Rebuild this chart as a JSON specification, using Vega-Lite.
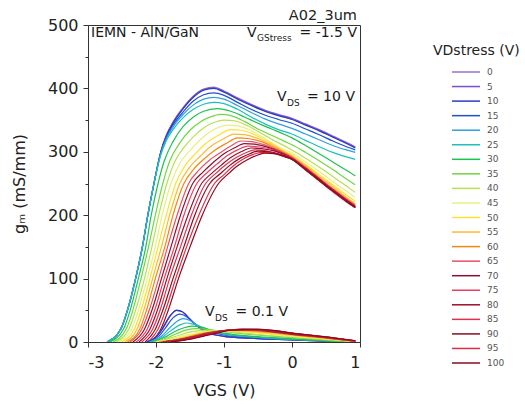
{
"$schema": "https://vega.github.io/schema/vega-lite/v6.json",
"width": 272, "height": 317,
"autosize": {"type": "none"},
"padding": {"left": 88, "top": 25, "right": 165, "bottom": 65},
"background": "white",
"title": {"text": "A02_3um", "anchor": "end", "frame": "group", "fontSize": 14.5, "fontWeight": "normal", "font": "DejaVu Sans", "offset": -6, "color": "#222", "dx": -3},
"config": {
  "view": {"stroke": "#333", "strokeWidth": 1},
  "font": "DejaVu Sans",
  "axis": {"grid": false, "domainColor": "#333", "tickColor": "#333", "labelColor": "#222", "titleColor": "#222", "labelFont": "DejaVu Sans", "titleFont": "DejaVu Sans", "titleFontWeight": "normal"},
  "legend": {"padding": 0}
},
"data": {"values": [
{"s":0,"d":"h","v":-2.72,"g":0},{"s":0,"d":"h","v":-2.52,"g":20},{"s":0,"d":"h","v":-2.42,"g":50},{"s":0,"d":"h","v":-2.3,"g":100},{"s":0,"d":"h","v":-2.2,"g":150},{"s":0,"d":"h","v":-2.12,"g":200},{"s":0,"d":"h","v":-2.03,"g":250},{"s":0,"d":"h","v":-1.93,"g":300},{"s":0,"d":"h","v":-1.85,"g":326},{"s":0,"d":"h","v":-1.75,"g":347},{"s":0,"d":"h","v":-1.6,"g":370},{"s":0,"d":"h","v":-1.45,"g":388},{"s":0,"d":"h","v":-1.3,"g":399},{"s":0,"d":"h","v":-1.15,"g":402},{"s":0,"d":"h","v":-1.0,"g":396},{"s":0,"d":"h","v":-0.8,"g":385},{"s":0,"d":"h","v":-0.6,"g":375},{"s":0,"d":"h","v":-0.4,"g":366},{"s":0,"d":"h","v":-0.2,"g":359},{"s":0,"d":"h","v":0,"g":353},{"s":0,"d":"h","v":0.2,"g":344},{"s":0,"d":"h","v":0.4,"g":335},{"s":0,"d":"h","v":0.6,"g":325},{"s":0,"d":"h","v":0.8,"g":315},{"s":0,"d":"h","v":0.93,"g":308},
{"s":5,"d":"h","v":-2.72,"g":0},{"s":5,"d":"h","v":-2.52,"g":20},{"s":5,"d":"h","v":-2.42,"g":50},{"s":5,"d":"h","v":-2.3,"g":100},{"s":5,"d":"h","v":-2.2,"g":150},{"s":5,"d":"h","v":-2.12,"g":200},{"s":5,"d":"h","v":-2.03,"g":250},{"s":5,"d":"h","v":-1.93,"g":300},{"s":5,"d":"h","v":-1.85,"g":325},{"s":5,"d":"h","v":-1.75,"g":346},{"s":5,"d":"h","v":-1.6,"g":369},{"s":5,"d":"h","v":-1.45,"g":387},{"s":5,"d":"h","v":-1.3,"g":398},{"s":5,"d":"h","v":-1.15,"g":401},{"s":5,"d":"h","v":-1.0,"g":395},{"s":5,"d":"h","v":-0.8,"g":384},{"s":5,"d":"h","v":-0.6,"g":374},{"s":5,"d":"h","v":-0.4,"g":365},{"s":5,"d":"h","v":-0.2,"g":358},{"s":5,"d":"h","v":0,"g":352},{"s":5,"d":"h","v":0.2,"g":343},{"s":5,"d":"h","v":0.4,"g":334},{"s":5,"d":"h","v":0.6,"g":324},{"s":5,"d":"h","v":0.8,"g":314},{"s":5,"d":"h","v":0.93,"g":307},
{"s":10,"d":"h","v":-2.72,"g":0},{"s":10,"d":"h","v":-2.52,"g":20},{"s":10,"d":"h","v":-2.42,"g":50},{"s":10,"d":"h","v":-2.3,"g":100},{"s":10,"d":"h","v":-2.2,"g":150},{"s":10,"d":"h","v":-2.12,"g":200},{"s":10,"d":"h","v":-2.03,"g":250},{"s":10,"d":"h","v":-1.93,"g":299},{"s":10,"d":"h","v":-1.85,"g":324},{"s":10,"d":"h","v":-1.75,"g":345},{"s":10,"d":"h","v":-1.6,"g":368},{"s":10,"d":"h","v":-1.45,"g":386},{"s":10,"d":"h","v":-1.3,"g":397},{"s":10,"d":"h","v":-1.15,"g":400},{"s":10,"d":"h","v":-1.0,"g":394},{"s":10,"d":"h","v":-0.8,"g":383},{"s":10,"d":"h","v":-0.6,"g":373},{"s":10,"d":"h","v":-0.4,"g":364},{"s":10,"d":"h","v":-0.2,"g":357},{"s":10,"d":"h","v":0,"g":351},{"s":10,"d":"h","v":0.2,"g":342},{"s":10,"d":"h","v":0.4,"g":333},{"s":10,"d":"h","v":0.6,"g":323},{"s":10,"d":"h","v":0.8,"g":313},{"s":10,"d":"h","v":0.93,"g":306},
{"s":15,"d":"h","v":-2.72,"g":0},{"s":15,"d":"h","v":-2.52,"g":20},{"s":15,"d":"h","v":-2.42,"g":50},{"s":15,"d":"h","v":-2.3,"g":100},{"s":15,"d":"h","v":-2.2,"g":150},{"s":15,"d":"h","v":-2.12,"g":200},{"s":15,"d":"h","v":-2.03,"g":250},{"s":15,"d":"h","v":-1.93,"g":298},{"s":15,"d":"h","v":-1.85,"g":322},{"s":15,"d":"h","v":-1.75,"g":342},{"s":15,"d":"h","v":-1.6,"g":363},{"s":15,"d":"h","v":-1.45,"g":380},{"s":15,"d":"h","v":-1.3,"g":390},{"s":15,"d":"h","v":-1.15,"g":393},{"s":15,"d":"h","v":-1.0,"g":389},{"s":15,"d":"h","v":-0.8,"g":378},{"s":15,"d":"h","v":-0.6,"g":367},{"s":15,"d":"h","v":-0.4,"g":358},{"s":15,"d":"h","v":-0.2,"g":351},{"s":15,"d":"h","v":0,"g":345},{"s":15,"d":"h","v":0.2,"g":336},{"s":15,"d":"h","v":0.4,"g":327},{"s":15,"d":"h","v":0.6,"g":317},{"s":15,"d":"h","v":0.8,"g":308},{"s":15,"d":"h","v":0.93,"g":303},
{"s":20,"d":"h","v":-2.72,"g":0},{"s":20,"d":"h","v":-2.52,"g":20},{"s":20,"d":"h","v":-2.42,"g":50},{"s":20,"d":"h","v":-2.3,"g":100},{"s":20,"d":"h","v":-2.2,"g":150},{"s":20,"d":"h","v":-2.12,"g":200},{"s":20,"d":"h","v":-2.03,"g":250},{"s":20,"d":"h","v":-1.93,"g":297},{"s":20,"d":"h","v":-1.85,"g":320},{"s":20,"d":"h","v":-1.75,"g":339},{"s":20,"d":"h","v":-1.6,"g":359},{"s":20,"d":"h","v":-1.45,"g":374},{"s":20,"d":"h","v":-1.3,"g":383},{"s":20,"d":"h","v":-1.15,"g":386},{"s":20,"d":"h","v":-1.0,"g":383},{"s":20,"d":"h","v":-0.8,"g":373},{"s":20,"d":"h","v":-0.6,"g":362},{"s":20,"d":"h","v":-0.4,"g":352},{"s":20,"d":"h","v":-0.2,"g":344},{"s":20,"d":"h","v":0,"g":337},{"s":20,"d":"h","v":0.2,"g":328},{"s":20,"d":"h","v":0.4,"g":319},{"s":20,"d":"h","v":0.6,"g":310},{"s":20,"d":"h","v":0.8,"g":303},{"s":20,"d":"h","v":0.93,"g":299},
{"s":25,"d":"h","v":-2.72,"g":0},{"s":25,"d":"h","v":-2.52,"g":20},{"s":25,"d":"h","v":-2.42,"g":50},{"s":25,"d":"h","v":-2.3,"g":100},{"s":25,"d":"h","v":-2.2,"g":150},{"s":25,"d":"h","v":-2.12,"g":200},{"s":25,"d":"h","v":-2.03,"g":250},{"s":25,"d":"h","v":-1.93,"g":295},{"s":25,"d":"h","v":-1.85,"g":317},{"s":25,"d":"h","v":-1.75,"g":335},{"s":25,"d":"h","v":-1.6,"g":354},{"s":25,"d":"h","v":-1.45,"g":367},{"s":25,"d":"h","v":-1.3,"g":375},{"s":25,"d":"h","v":-1.15,"g":378},{"s":25,"d":"h","v":-1.0,"g":376},{"s":25,"d":"h","v":-0.8,"g":367},{"s":25,"d":"h","v":-0.6,"g":355},{"s":25,"d":"h","v":-0.4,"g":344},{"s":25,"d":"h","v":-0.2,"g":335},{"s":25,"d":"h","v":0,"g":328},{"s":25,"d":"h","v":0.2,"g":318},{"s":25,"d":"h","v":0.4,"g":308},{"s":25,"d":"h","v":0.6,"g":299},{"s":25,"d":"h","v":0.8,"g":292},{"s":25,"d":"h","v":0.93,"g":288},
{"s":30,"d":"h","v":-2.68,"g":0},{"s":30,"d":"h","v":-2.48,"g":20},{"s":30,"d":"h","v":-2.38,"g":50},{"s":30,"d":"h","v":-2.26,"g":100},{"s":30,"d":"h","v":-2.15,"g":150},{"s":30,"d":"h","v":-2.07,"g":200},{"s":30,"d":"h","v":-1.97,"g":250},{"s":30,"d":"h","v":-1.88,"g":285},{"s":30,"d":"h","v":-1.75,"g":316},{"s":30,"d":"h","v":-1.6,"g":340},{"s":30,"d":"h","v":-1.45,"g":355},{"s":30,"d":"h","v":-1.3,"g":364},{"s":30,"d":"h","v":-1.1,"g":368},{"s":30,"d":"h","v":-0.9,"g":364},{"s":30,"d":"h","v":-0.7,"g":355},{"s":30,"d":"h","v":-0.5,"g":345},{"s":30,"d":"h","v":-0.3,"g":336},{"s":30,"d":"h","v":-0.1,"g":327},{"s":30,"d":"h","v":0,"g":322},{"s":30,"d":"h","v":0.2,"g":310},{"s":30,"d":"h","v":0.4,"g":297},{"s":30,"d":"h","v":0.6,"g":284},{"s":30,"d":"h","v":0.8,"g":271},{"s":30,"d":"h","v":0.93,"g":262},
{"s":35,"d":"h","v":-2.63,"g":0},{"s":35,"d":"h","v":-2.44,"g":20},{"s":35,"d":"h","v":-2.34,"g":50},{"s":35,"d":"h","v":-2.22,"g":100},{"s":35,"d":"h","v":-2.11,"g":150},{"s":35,"d":"h","v":-2.01,"g":200},{"s":35,"d":"h","v":-1.9,"g":250},{"s":35,"d":"h","v":-1.8,"g":285},{"s":35,"d":"h","v":-1.65,"g":314},{"s":35,"d":"h","v":-1.5,"g":334},{"s":35,"d":"h","v":-1.35,"g":347},{"s":35,"d":"h","v":-1.2,"g":355},{"s":35,"d":"h","v":-1.05,"g":359},{"s":35,"d":"h","v":-0.9,"g":357},{"s":35,"d":"h","v":-0.7,"g":348},{"s":35,"d":"h","v":-0.5,"g":336},{"s":35,"d":"h","v":-0.3,"g":326},{"s":35,"d":"h","v":-0.1,"g":316},{"s":35,"d":"h","v":0,"g":311},{"s":35,"d":"h","v":0.2,"g":299},{"s":35,"d":"h","v":0.4,"g":286},{"s":35,"d":"h","v":0.6,"g":272},{"s":35,"d":"h","v":0.8,"g":257},{"s":35,"d":"h","v":0.93,"g":248},
{"s":40,"d":"h","v":-2.59,"g":0},{"s":40,"d":"h","v":-2.4,"g":20},{"s":40,"d":"h","v":-2.3,"g":50},{"s":40,"d":"h","v":-2.17,"g":100},{"s":40,"d":"h","v":-2.06,"g":150},{"s":40,"d":"h","v":-1.96,"g":200},{"s":40,"d":"h","v":-1.84,"g":250},{"s":40,"d":"h","v":-1.73,"g":283},{"s":40,"d":"h","v":-1.58,"g":308},{"s":40,"d":"h","v":-1.43,"g":326},{"s":40,"d":"h","v":-1.28,"g":339},{"s":40,"d":"h","v":-1.13,"g":347},{"s":40,"d":"h","v":-1.0,"g":350},{"s":40,"d":"h","v":-0.85,"g":349},{"s":40,"d":"h","v":-0.65,"g":341},{"s":40,"d":"h","v":-0.45,"g":329},{"s":40,"d":"h","v":-0.25,"g":317},{"s":40,"d":"h","v":0,"g":303},{"s":40,"d":"h","v":0.2,"g":290},{"s":40,"d":"h","v":0.4,"g":276},{"s":40,"d":"h","v":0.6,"g":261},{"s":40,"d":"h","v":0.8,"g":246},{"s":40,"d":"h","v":0.93,"g":236},
{"s":45,"d":"h","v":-2.55,"g":0},{"s":45,"d":"h","v":-2.36,"g":20},{"s":45,"d":"h","v":-2.26,"g":50},{"s":45,"d":"h","v":-2.13,"g":100},{"s":45,"d":"h","v":-2.01,"g":150},{"s":45,"d":"h","v":-1.91,"g":200},{"s":45,"d":"h","v":-1.78,"g":250},{"s":45,"d":"h","v":-1.66,"g":280},{"s":45,"d":"h","v":-1.5,"g":302},{"s":45,"d":"h","v":-1.35,"g":319},{"s":45,"d":"h","v":-1.2,"g":332},{"s":45,"d":"h","v":-1.07,"g":339},{"s":45,"d":"h","v":-0.95,"g":342},{"s":45,"d":"h","v":-0.8,"g":341},{"s":45,"d":"h","v":-0.6,"g":333},{"s":45,"d":"h","v":-0.4,"g":321},{"s":45,"d":"h","v":-0.2,"g":308},{"s":45,"d":"h","v":0,"g":298},{"s":45,"d":"h","v":0.2,"g":284},{"s":45,"d":"h","v":0.4,"g":269},{"s":45,"d":"h","v":0.6,"g":253},{"s":45,"d":"h","v":0.8,"g":238},{"s":45,"d":"h","v":0.93,"g":228},
{"s":50,"d":"h","v":-2.51,"g":0},{"s":50,"d":"h","v":-2.32,"g":20},{"s":50,"d":"h","v":-2.22,"g":50},{"s":50,"d":"h","v":-2.09,"g":100},{"s":50,"d":"h","v":-1.97,"g":150},{"s":50,"d":"h","v":-1.85,"g":200},{"s":50,"d":"h","v":-1.71,"g":250},{"s":50,"d":"h","v":-1.58,"g":277},{"s":50,"d":"h","v":-1.42,"g":297},{"s":50,"d":"h","v":-1.27,"g":313},{"s":50,"d":"h","v":-1.1,"g":325},{"s":50,"d":"h","v":-0.9,"g":335},{"s":50,"d":"h","v":-0.75,"g":334},{"s":50,"d":"h","v":-0.55,"g":327},{"s":50,"d":"h","v":-0.35,"g":316},{"s":50,"d":"h","v":-0.15,"g":303},{"s":50,"d":"h","v":0,"g":295},{"s":50,"d":"h","v":0.2,"g":280},{"s":50,"d":"h","v":0.4,"g":264},{"s":50,"d":"h","v":0.6,"g":248},{"s":50,"d":"h","v":0.8,"g":232},{"s":50,"d":"h","v":0.93,"g":222},
{"s":55,"d":"h","v":-2.46,"g":0},{"s":55,"d":"h","v":-2.28,"g":20},{"s":55,"d":"h","v":-2.18,"g":50},{"s":55,"d":"h","v":-2.05,"g":100},{"s":55,"d":"h","v":-1.92,"g":150},{"s":55,"d":"h","v":-1.8,"g":200},{"s":55,"d":"h","v":-1.65,"g":250},{"s":55,"d":"h","v":-1.51,"g":275},{"s":55,"d":"h","v":-1.35,"g":293},{"s":55,"d":"h","v":-1.2,"g":308},{"s":55,"d":"h","v":-1.03,"g":319},{"s":55,"d":"h","v":-0.85,"g":328},{"s":55,"d":"h","v":-0.7,"g":327},{"s":55,"d":"h","v":-0.5,"g":321},{"s":55,"d":"h","v":-0.3,"g":311},{"s":55,"d":"h","v":-0.1,"g":299},{"s":55,"d":"h","v":0,"g":293},{"s":55,"d":"h","v":0.2,"g":278},{"s":55,"d":"h","v":0.4,"g":261},{"s":55,"d":"h","v":0.6,"g":245},{"s":55,"d":"h","v":0.8,"g":228},{"s":55,"d":"h","v":0.93,"g":218},
{"s":60,"d":"h","v":-2.42,"g":0},{"s":60,"d":"h","v":-2.24,"g":20},{"s":60,"d":"h","v":-2.14,"g":50},{"s":60,"d":"h","v":-2.01,"g":100},{"s":60,"d":"h","v":-1.87,"g":150},{"s":60,"d":"h","v":-1.75,"g":200},{"s":60,"d":"h","v":-1.59,"g":250},{"s":60,"d":"h","v":-1.45,"g":272},{"s":60,"d":"h","v":-1.29,"g":289},{"s":60,"d":"h","v":-1.13,"g":303},{"s":60,"d":"h","v":-0.97,"g":313},{"s":60,"d":"h","v":-0.8,"g":322},{"s":60,"d":"h","v":-0.65,"g":321},{"s":60,"d":"h","v":-0.45,"g":316},{"s":60,"d":"h","v":-0.25,"g":306},{"s":60,"d":"h","v":-0.05,"g":295},{"s":60,"d":"h","v":0.2,"g":276},{"s":60,"d":"h","v":0.4,"g":259},{"s":60,"d":"h","v":0.6,"g":242},{"s":60,"d":"h","v":0.8,"g":226},{"s":60,"d":"h","v":0.93,"g":216},
{"s":65,"d":"h","v":-2.38,"g":0},{"s":65,"d":"h","v":-2.21,"g":20},{"s":65,"d":"h","v":-2.1,"g":50},{"s":65,"d":"h","v":-1.96,"g":100},{"s":65,"d":"h","v":-1.83,"g":150},{"s":65,"d":"h","v":-1.69,"g":200},{"s":65,"d":"h","v":-1.52,"g":250},{"s":65,"d":"h","v":-1.37,"g":271},{"s":65,"d":"h","v":-1.21,"g":287},{"s":65,"d":"h","v":-1.05,"g":299},{"s":65,"d":"h","v":-0.9,"g":309},{"s":65,"d":"h","v":-0.75,"g":317},{"s":65,"d":"h","v":-0.6,"g":316},{"s":65,"d":"h","v":-0.4,"g":311},{"s":65,"d":"h","v":-0.2,"g":302},{"s":65,"d":"h","v":0,"g":291},{"s":65,"d":"h","v":0.2,"g":275},{"s":65,"d":"h","v":0.4,"g":258},{"s":65,"d":"h","v":0.6,"g":241},{"s":65,"d":"h","v":0.8,"g":225},{"s":65,"d":"h","v":0.93,"g":215},
{"s":70,"d":"h","v":-2.34,"g":0},{"s":70,"d":"h","v":-2.17,"g":20},{"s":70,"d":"h","v":-2.06,"g":50},{"s":70,"d":"h","v":-1.92,"g":100},{"s":70,"d":"h","v":-1.78,"g":150},{"s":70,"d":"h","v":-1.64,"g":200},{"s":70,"d":"h","v":-1.46,"g":250},{"s":70,"d":"h","v":-1.31,"g":268},{"s":70,"d":"h","v":-1.15,"g":284},{"s":70,"d":"h","v":-1.0,"g":297},{"s":70,"d":"h","v":-0.85,"g":306},{"s":70,"d":"h","v":-0.7,"g":313},{"s":70,"d":"h","v":-0.55,"g":312},{"s":70,"d":"h","v":-0.35,"g":307},{"s":70,"d":"h","v":-0.15,"g":298},{"s":70,"d":"h","v":0,"g":290},{"s":70,"d":"h","v":0.2,"g":274},{"s":70,"d":"h","v":0.4,"g":257},{"s":70,"d":"h","v":0.6,"g":240},{"s":70,"d":"h","v":0.8,"g":224},{"s":70,"d":"h","v":0.93,"g":214},
{"s":75,"d":"h","v":-2.29,"g":0},{"s":75,"d":"h","v":-2.13,"g":20},{"s":75,"d":"h","v":-2.02,"g":50},{"s":75,"d":"h","v":-1.88,"g":100},{"s":75,"d":"h","v":-1.73,"g":150},{"s":75,"d":"h","v":-1.59,"g":200},{"s":75,"d":"h","v":-1.4,"g":250},{"s":75,"d":"h","v":-1.25,"g":267},{"s":75,"d":"h","v":-1.1,"g":281},{"s":75,"d":"h","v":-0.95,"g":294},{"s":75,"d":"h","v":-0.8,"g":303},{"s":75,"d":"h","v":-0.65,"g":309},{"s":75,"d":"h","v":-0.5,"g":308},{"s":75,"d":"h","v":-0.3,"g":304},{"s":75,"d":"h","v":-0.1,"g":295},{"s":75,"d":"h","v":0,"g":290},{"s":75,"d":"h","v":0.2,"g":273},{"s":75,"d":"h","v":0.4,"g":256},{"s":75,"d":"h","v":0.6,"g":239},{"s":75,"d":"h","v":0.8,"g":223},{"s":75,"d":"h","v":0.93,"g":213},
{"s":80,"d":"h","v":-2.25,"g":0},{"s":80,"d":"h","v":-2.09,"g":20},{"s":80,"d":"h","v":-1.98,"g":50},{"s":80,"d":"h","v":-1.84,"g":100},{"s":80,"d":"h","v":-1.69,"g":150},{"s":80,"d":"h","v":-1.53,"g":200},{"s":80,"d":"h","v":-1.33,"g":250},{"s":80,"d":"h","v":-1.18,"g":266},{"s":80,"d":"h","v":-1.04,"g":279},{"s":80,"d":"h","v":-0.9,"g":291},{"s":80,"d":"h","v":-0.75,"g":300},{"s":80,"d":"h","v":-0.6,"g":306},{"s":80,"d":"h","v":-0.45,"g":305},{"s":80,"d":"h","v":-0.25,"g":301},{"s":80,"d":"h","v":-0.05,"g":292},{"s":80,"d":"h","v":0.2,"g":273},{"s":80,"d":"h","v":0.4,"g":256},{"s":80,"d":"h","v":0.6,"g":239},{"s":80,"d":"h","v":0.8,"g":223},{"s":80,"d":"h","v":0.93,"g":213},
{"s":85,"d":"h","v":-2.21,"g":0},{"s":85,"d":"h","v":-2.05,"g":20},{"s":85,"d":"h","v":-1.94,"g":50},{"s":85,"d":"h","v":-1.8,"g":100},{"s":85,"d":"h","v":-1.64,"g":150},{"s":85,"d":"h","v":-1.48,"g":200},{"s":85,"d":"h","v":-1.27,"g":250},{"s":85,"d":"h","v":-1.12,"g":266},{"s":85,"d":"h","v":-0.97,"g":280},{"s":85,"d":"h","v":-0.82,"g":291},{"s":85,"d":"h","v":-0.67,"g":299},{"s":85,"d":"h","v":-0.55,"g":303},{"s":85,"d":"h","v":-0.4,"g":302},{"s":85,"d":"h","v":-0.2,"g":297},{"s":85,"d":"h","v":0,"g":289},{"s":85,"d":"h","v":0.2,"g":272},{"s":85,"d":"h","v":0.4,"g":255},{"s":85,"d":"h","v":0.6,"g":238},{"s":85,"d":"h","v":0.8,"g":222},{"s":85,"d":"h","v":0.93,"g":212},
{"s":90,"d":"h","v":-2.16,"g":0},{"s":90,"d":"h","v":-2.01,"g":20},{"s":90,"d":"h","v":-1.9,"g":50},{"s":90,"d":"h","v":-1.75,"g":100},{"s":90,"d":"h","v":-1.59,"g":150},{"s":90,"d":"h","v":-1.43,"g":200},{"s":90,"d":"h","v":-1.21,"g":250},{"s":90,"d":"h","v":-1.06,"g":265},{"s":90,"d":"h","v":-0.91,"g":279},{"s":90,"d":"h","v":-0.76,"g":290},{"s":90,"d":"h","v":-0.62,"g":297},{"s":90,"d":"h","v":-0.5,"g":301},{"s":90,"d":"h","v":-0.35,"g":300},{"s":90,"d":"h","v":-0.15,"g":295},{"s":90,"d":"h","v":0,"g":289},{"s":90,"d":"h","v":0.2,"g":272},{"s":90,"d":"h","v":0.4,"g":255},{"s":90,"d":"h","v":0.6,"g":238},{"s":90,"d":"h","v":0.8,"g":222},{"s":90,"d":"h","v":0.93,"g":212},
{"s":95,"d":"h","v":-2.12,"g":0},{"s":95,"d":"h","v":-1.97,"g":20},{"s":95,"d":"h","v":-1.86,"g":50},{"s":95,"d":"h","v":-1.71,"g":100},{"s":95,"d":"h","v":-1.55,"g":150},{"s":95,"d":"h","v":-1.37,"g":200},{"s":95,"d":"h","v":-1.14,"g":250},{"s":95,"d":"h","v":-1.0,"g":264},{"s":95,"d":"h","v":-0.86,"g":278},{"s":95,"d":"h","v":-0.71,"g":289},{"s":95,"d":"h","v":-0.57,"g":296},{"s":95,"d":"h","v":-0.45,"g":299},{"s":95,"d":"h","v":-0.3,"g":298},{"s":95,"d":"h","v":-0.1,"g":292},{"s":95,"d":"h","v":0,"g":288},{"s":95,"d":"h","v":0.2,"g":271},{"s":95,"d":"h","v":0.4,"g":254},{"s":95,"d":"h","v":0.6,"g":237},{"s":95,"d":"h","v":0.8,"g":221},{"s":95,"d":"h","v":0.93,"g":212},
{"s":100,"d":"h","v":-2.08,"g":0},{"s":100,"d":"h","v":-1.93,"g":20},{"s":100,"d":"h","v":-1.82,"g":50},{"s":100,"d":"h","v":-1.67,"g":100},{"s":100,"d":"h","v":-1.5,"g":150},{"s":100,"d":"h","v":-1.32,"g":200},{"s":100,"d":"h","v":-1.08,"g":250},{"s":100,"d":"h","v":-0.95,"g":264},{"s":100,"d":"h","v":-0.8,"g":278},{"s":100,"d":"h","v":-0.65,"g":288},{"s":100,"d":"h","v":-0.5,"g":295},{"s":100,"d":"h","v":-0.4,"g":298},{"s":100,"d":"h","v":-0.25,"g":297},{"s":100,"d":"h","v":-0.1,"g":292},{"s":100,"d":"h","v":0,"g":288},{"s":100,"d":"h","v":0.2,"g":272},{"s":100,"d":"h","v":0.4,"g":255},{"s":100,"d":"h","v":0.6,"g":238},{"s":100,"d":"h","v":0.8,"g":222},{"s":100,"d":"h","v":0.93,"g":212},
{"s":0,"d":"l","v":-2.14,"g":0},{"s":0,"d":"l","v":-2.0,"g":8},{"s":0,"d":"l","v":-1.9,"g":22},{"s":0,"d":"l","v":-1.8,"g":40},{"s":0,"d":"l","v":-1.7,"g":50},{"s":0,"d":"l","v":-1.62,"g":48},{"s":0,"d":"l","v":-1.5,"g":36},{"s":0,"d":"l","v":-1.4,"g":26},{"s":0,"d":"l","v":-1.25,"g":15},{"s":0,"d":"l","v":-1.0,"g":9},{"s":0,"d":"l","v":-0.6,"g":6},{"s":0,"d":"l","v":-0.2,"g":4},{"s":0,"d":"l","v":0.3,"g":2},{"s":0,"d":"l","v":0.93,"g":0},
{"s":5,"d":"l","v":-2.14,"g":0},{"s":5,"d":"l","v":-2.0,"g":8},{"s":5,"d":"l","v":-1.9,"g":22},{"s":5,"d":"l","v":-1.8,"g":40},{"s":5,"d":"l","v":-1.7,"g":50},{"s":5,"d":"l","v":-1.62,"g":48},{"s":5,"d":"l","v":-1.5,"g":36},{"s":5,"d":"l","v":-1.4,"g":26},{"s":5,"d":"l","v":-1.25,"g":15},{"s":5,"d":"l","v":-1.0,"g":9},{"s":5,"d":"l","v":-0.6,"g":6},{"s":5,"d":"l","v":-0.2,"g":4},{"s":5,"d":"l","v":0.3,"g":2},{"s":5,"d":"l","v":0.93,"g":0},
{"s":10,"d":"l","v":-2.14,"g":0},{"s":10,"d":"l","v":-2.0,"g":8},{"s":10,"d":"l","v":-1.9,"g":22},{"s":10,"d":"l","v":-1.8,"g":40},{"s":10,"d":"l","v":-1.7,"g":50},{"s":10,"d":"l","v":-1.62,"g":48},{"s":10,"d":"l","v":-1.5,"g":36},{"s":10,"d":"l","v":-1.4,"g":26},{"s":10,"d":"l","v":-1.25,"g":15},{"s":10,"d":"l","v":-1.0,"g":9},{"s":10,"d":"l","v":-0.6,"g":6},{"s":10,"d":"l","v":-0.2,"g":4},{"s":10,"d":"l","v":0.3,"g":2},{"s":10,"d":"l","v":0.93,"g":0},
{"s":15,"d":"l","v":-2.12,"g":0},{"s":15,"d":"l","v":-1.95,"g":10},{"s":15,"d":"l","v":-1.85,"g":24},{"s":15,"d":"l","v":-1.75,"g":38},{"s":15,"d":"l","v":-1.65,"g":44},{"s":15,"d":"l","v":-1.55,"g":40},{"s":15,"d":"l","v":-1.45,"g":30},{"s":15,"d":"l","v":-1.3,"g":20},{"s":15,"d":"l","v":-1.0,"g":11},{"s":15,"d":"l","v":-0.6,"g":7},{"s":15,"d":"l","v":-0.2,"g":5},{"s":15,"d":"l","v":0.3,"g":3},{"s":15,"d":"l","v":0.93,"g":0},
{"s":20,"d":"l","v":-2.1,"g":0},{"s":20,"d":"l","v":-1.92,"g":9},{"s":20,"d":"l","v":-1.8,"g":22},{"s":20,"d":"l","v":-1.7,"g":32},{"s":20,"d":"l","v":-1.6,"g":37},{"s":20,"d":"l","v":-1.5,"g":34},{"s":20,"d":"l","v":-1.4,"g":27},{"s":20,"d":"l","v":-1.25,"g":19},{"s":20,"d":"l","v":-1.0,"g":12},{"s":20,"d":"l","v":-0.6,"g":8},{"s":20,"d":"l","v":-0.2,"g":5},{"s":20,"d":"l","v":0.3,"g":3},{"s":20,"d":"l","v":0.93,"g":0},
{"s":25,"d":"l","v":-2.08,"g":0},{"s":25,"d":"l","v":-1.9,"g":8},{"s":25,"d":"l","v":-1.78,"g":18},{"s":25,"d":"l","v":-1.65,"g":27},{"s":25,"d":"l","v":-1.55,"g":30},{"s":25,"d":"l","v":-1.45,"g":28},{"s":25,"d":"l","v":-1.3,"g":22},{"s":25,"d":"l","v":-1.1,"g":15},{"s":25,"d":"l","v":-0.8,"g":10},{"s":25,"d":"l","v":-0.4,"g":7},{"s":25,"d":"l","v":0,"g":5},{"s":25,"d":"l","v":0.5,"g":2},{"s":25,"d":"l","v":0.93,"g":0},
{"s":30,"d":"l","v":-2.06,"g":0},{"s":30,"d":"l","v":-1.88,"g":7},{"s":30,"d":"l","v":-1.75,"g":15},{"s":30,"d":"l","v":-1.6,"g":22},{"s":30,"d":"l","v":-1.48,"g":25},{"s":30,"d":"l","v":-1.35,"g":24},{"s":30,"d":"l","v":-1.2,"g":19},{"s":30,"d":"l","v":-1.0,"g":14},{"s":30,"d":"l","v":-0.7,"g":10},{"s":30,"d":"l","v":-0.3,"g":7},{"s":30,"d":"l","v":0.1,"g":4},{"s":30,"d":"l","v":0.5,"g":2},{"s":30,"d":"l","v":0.93,"g":0},
{"s":35,"d":"l","v":-2.04,"g":0},{"s":35,"d":"l","v":-1.85,"g":6},{"s":35,"d":"l","v":-1.7,"g":13},{"s":35,"d":"l","v":-1.55,"g":19},{"s":35,"d":"l","v":-1.4,"g":21},{"s":35,"d":"l","v":-1.25,"g":20},{"s":35,"d":"l","v":-1.05,"g":17},{"s":35,"d":"l","v":-0.8,"g":14},{"s":35,"d":"l","v":-0.4,"g":10},{"s":35,"d":"l","v":0,"g":7},{"s":35,"d":"l","v":0.5,"g":3},{"s":35,"d":"l","v":0.93,"g":0},
{"s":40,"d":"l","v":-2.02,"g":0},{"s":40,"d":"l","v":-1.82,"g":5},{"s":40,"d":"l","v":-1.65,"g":11},{"s":40,"d":"l","v":-1.5,"g":16},{"s":40,"d":"l","v":-1.3,"g":18},{"s":40,"d":"l","v":-1.1,"g":17},{"s":40,"d":"l","v":-0.8,"g":15},{"s":40,"d":"l","v":-0.4,"g":11},{"s":40,"d":"l","v":0,"g":8},{"s":40,"d":"l","v":0.5,"g":4},{"s":40,"d":"l","v":0.93,"g":1},
{"s":45,"d":"l","v":-2.0,"g":0},{"s":45,"d":"l","v":-1.8,"g":4},{"s":45,"d":"l","v":-1.6,"g":10},{"s":45,"d":"l","v":-1.4,"g":15},{"s":45,"d":"l","v":-1.2,"g":17},{"s":45,"d":"l","v":-1.0,"g":17},{"s":45,"d":"l","v":-0.7,"g":16},{"s":45,"d":"l","v":-0.4,"g":13},{"s":45,"d":"l","v":0,"g":9},{"s":45,"d":"l","v":0.5,"g":5},{"s":45,"d":"l","v":0.93,"g":1},
{"s":50,"d":"l","v":-1.98,"g":0},{"s":50,"d":"l","v":-1.75,"g":4},{"s":50,"d":"l","v":-1.55,"g":9},{"s":50,"d":"l","v":-1.35,"g":14},{"s":50,"d":"l","v":-1.15,"g":16.5},{"s":50,"d":"l","v":-0.95,"g":17},{"s":50,"d":"l","v":-0.7,"g":16.5},{"s":50,"d":"l","v":-0.4,"g":14},{"s":50,"d":"l","v":0,"g":10},{"s":50,"d":"l","v":0.5,"g":5},{"s":50,"d":"l","v":0.93,"g":1},
{"s":55,"d":"l","v":-1.96,"g":0},{"s":55,"d":"l","v":-1.7,"g":4},{"s":55,"d":"l","v":-1.5,"g":9},{"s":55,"d":"l","v":-1.3,"g":14},{"s":55,"d":"l","v":-1.1,"g":17},{"s":55,"d":"l","v":-0.9,"g":18},{"s":55,"d":"l","v":-0.65,"g":17.5},{"s":55,"d":"l","v":-0.35,"g":15},{"s":55,"d":"l","v":0,"g":11},{"s":55,"d":"l","v":0.5,"g":6},{"s":55,"d":"l","v":0.93,"g":1},
{"s":60,"d":"l","v":-1.94,"g":0},{"s":60,"d":"l","v":-1.68,"g":4},{"s":60,"d":"l","v":-1.48,"g":9},{"s":60,"d":"l","v":-1.28,"g":14},{"s":60,"d":"l","v":-1.08,"g":17},{"s":60,"d":"l","v":-0.88,"g":18.5},{"s":60,"d":"l","v":-0.65,"g":18},{"s":60,"d":"l","v":-0.35,"g":15.5},{"s":60,"d":"l","v":0,"g":11.5},{"s":60,"d":"l","v":0.5,"g":6},{"s":60,"d":"l","v":0.93,"g":1},
{"s":65,"d":"l","v":-1.92,"g":0},{"s":65,"d":"l","v":-1.66,"g":4},{"s":65,"d":"l","v":-1.45,"g":9},{"s":65,"d":"l","v":-1.25,"g":14},{"s":65,"d":"l","v":-1.05,"g":17.5},{"s":65,"d":"l","v":-0.85,"g":19},{"s":65,"d":"l","v":-0.6,"g":18.5},{"s":65,"d":"l","v":-0.3,"g":16},{"s":65,"d":"l","v":0,"g":12},{"s":65,"d":"l","v":0.5,"g":6.5},{"s":65,"d":"l","v":0.93,"g":1.5},
{"s":70,"d":"l","v":-1.9,"g":0},{"s":70,"d":"l","v":-1.64,"g":4},{"s":70,"d":"l","v":-1.43,"g":9},{"s":70,"d":"l","v":-1.23,"g":14},{"s":70,"d":"l","v":-1.03,"g":17.5},{"s":70,"d":"l","v":-0.83,"g":19},{"s":70,"d":"l","v":-0.6,"g":19},{"s":70,"d":"l","v":-0.3,"g":16.5},{"s":70,"d":"l","v":0,"g":12.5},{"s":70,"d":"l","v":0.5,"g":7},{"s":70,"d":"l","v":0.93,"g":1.5},
{"s":75,"d":"l","v":-1.88,"g":0},{"s":75,"d":"l","v":-1.62,"g":4},{"s":75,"d":"l","v":-1.41,"g":9},{"s":75,"d":"l","v":-1.21,"g":14},{"s":75,"d":"l","v":-1.01,"g":18},{"s":75,"d":"l","v":-0.81,"g":19.5},{"s":75,"d":"l","v":-0.58,"g":19},{"s":75,"d":"l","v":-0.3,"g":17},{"s":75,"d":"l","v":0,"g":13},{"s":75,"d":"l","v":0.5,"g":7},{"s":75,"d":"l","v":0.93,"g":1.5},
{"s":80,"d":"l","v":-1.86,"g":0},{"s":80,"d":"l","v":-1.6,"g":4},{"s":80,"d":"l","v":-1.39,"g":9},{"s":80,"d":"l","v":-1.19,"g":14},{"s":80,"d":"l","v":-0.99,"g":18},{"s":80,"d":"l","v":-0.79,"g":19.5},{"s":80,"d":"l","v":-0.56,"g":19.5},{"s":80,"d":"l","v":-0.28,"g":17},{"s":80,"d":"l","v":0,"g":13},{"s":80,"d":"l","v":0.5,"g":7.5},{"s":80,"d":"l","v":0.93,"g":2},
{"s":85,"d":"l","v":-1.84,"g":0},{"s":85,"d":"l","v":-1.58,"g":4},{"s":85,"d":"l","v":-1.37,"g":9},{"s":85,"d":"l","v":-1.17,"g":14},{"s":85,"d":"l","v":-0.97,"g":18},{"s":85,"d":"l","v":-0.77,"g":20},{"s":85,"d":"l","v":-0.55,"g":19.5},{"s":85,"d":"l","v":-0.27,"g":17.5},{"s":85,"d":"l","v":0,"g":13.5},{"s":85,"d":"l","v":0.5,"g":7.5},{"s":85,"d":"l","v":0.93,"g":2},
{"s":90,"d":"l","v":-1.82,"g":0},{"s":90,"d":"l","v":-1.56,"g":4},{"s":90,"d":"l","v":-1.35,"g":9},{"s":90,"d":"l","v":-1.15,"g":14},{"s":90,"d":"l","v":-0.95,"g":18.5},{"s":90,"d":"l","v":-0.75,"g":20},{"s":90,"d":"l","v":-0.53,"g":20},{"s":90,"d":"l","v":-0.25,"g":17.5},{"s":90,"d":"l","v":0,"g":14},{"s":90,"d":"l","v":0.5,"g":8},{"s":90,"d":"l","v":0.93,"g":2},
{"s":95,"d":"l","v":-1.8,"g":0},{"s":95,"d":"l","v":-1.54,"g":4},{"s":95,"d":"l","v":-1.33,"g":9},{"s":95,"d":"l","v":-1.13,"g":14},{"s":95,"d":"l","v":-0.93,"g":18.5},{"s":95,"d":"l","v":-0.73,"g":20},{"s":95,"d":"l","v":-0.5,"g":20},{"s":95,"d":"l","v":-0.25,"g":18},{"s":95,"d":"l","v":0,"g":14},{"s":95,"d":"l","v":0.5,"g":8},{"s":95,"d":"l","v":0.93,"g":2},
{"s":100,"d":"l","v":-1.78,"g":0},{"s":100,"d":"l","v":-1.52,"g":4},{"s":100,"d":"l","v":-1.31,"g":9},{"s":100,"d":"l","v":-1.11,"g":14},{"s":100,"d":"l","v":-0.91,"g":18.5},{"s":100,"d":"l","v":-0.71,"g":20},{"s":100,"d":"l","v":-0.5,"g":20},{"s":100,"d":"l","v":-0.25,"g":18},{"s":100,"d":"l","v":0,"g":14},{"s":100,"d":"l","v":0.5,"g":8},{"s":100,"d":"l","v":0.93,"g":2}
]},
"layer": [
  {
    "mark": {"type": "line", "strokeWidth": 1.2, "interpolate": "monotone", "clip": true},
    "encoding": {
      "x": {"field": "v", "type": "quantitative", "scale": {"domain": [-3, 1], "nice": false, "zero": false},
            "axis": {"values": [-3, -2, -1, 0, 1], "title": "VGS (V)", "tickSize": 5, "labelFontSize": 16, "titleFontSize": 16, "labelPadding": 7, "titlePadding": 12,
                     "labelExpr": "datum.value < 0 ? '-' + abs(datum.value) : '' + datum.value"}},
      "y": {"field": "g", "type": "quantitative", "scale": {"domain": [0, 500], "nice": false},
            "axis": {"values": [0, 100, 200, 300, 400, 500], "title": "gₘ (mS/mm)", "tickSize": 5, "labelFontSize": 16, "titleFontSize": 16, "labelPadding": 5, "titlePadding": 20}},
      "color": {"field": "s", "type": "ordinal",
                "scale": {"domain": [0,5,10,15,20,25,30,35,40,45,50,55,60,65,70,75,80,85,90,95,100],
                          "range": ["#9a70d0","#7a50c8","#2a3cc0","#2050d0","#30a0e0","#20c0b8","#20c050","#70d840","#b8e050","#e8f080","#ffe030","#ffb830","#f08810","#e85068","#8c1030","#e84060","#98102c","#e03050","#8a0c24","#e02c44","#8a0a20"]},
                "legend": {"title": "VDstress (V)", "orient": "none", "legendX": 345, "legendY": 19, "titleFontSize": 14, "titleFontWeight": "normal", "titleColor": "#222", "titleFont": "DejaVu Sans", "titlePadding": 8,
                           "labelFontSize": 9, "labelColor": "#555", "labelFont": "DejaVu Sans", "symbolType": "M-2.8,0H2.8", "symbolStrokeWidth": 1.5, "symbolSize": 100, "symbolOffset": 27, "labelOffset": 15, "rowPadding": 3.55}},
      "detail": {"field": "d"}
    }
  },
  {
    "data": {"values": [
      {"v": -2.955, "g": 487, "t": "IEMN - AlN/GaN"},
      {"v": -0.662, "g": 487, "t": "V"},
      {"v": -0.221, "g": 386, "t": "V"},
      {"v": -1.279, "g": 47, "t": "V"}
    ]},
    "mark": {"type": "text", "align": "left", "baseline": "middle", "fontSize": 14, "font": "DejaVu Sans", "color": "#1a1a1a"},
    "encoding": {"x": {"field": "v", "type": "quantitative"}, "y": {"field": "g", "type": "quantitative", "axis": null}, "text": {"field": "t"}}
  },
  {
    "data": {"values": [
      {"v": 0.956, "g": 487, "t": "= -1.5 V"},
      {"v": 0.926, "g": 386, "t": "= 10 V"},
      {"v": -0.059, "g": 47, "t": "= 0.1 V"}
    ]},
    "mark": {"type": "text", "align": "right", "baseline": "middle", "fontSize": 14, "font": "DejaVu Sans", "color": "#1a1a1a"},
    "encoding": {"x": {"field": "v", "type": "quantitative"}, "y": {"field": "g", "type": "quantitative", "axis": null}, "text": {"field": "t"}}
  },
  {
    "data": {"values": [
      {"v": -0.515, "g": 479, "t": "GStress"},
      {"v": -0.074, "g": 377, "t": "DS"},
      {"v": -1.132, "g": 38, "t": "DS"}
    ]},
    "mark": {"type": "text", "align": "left", "baseline": "middle", "fontSize": 9, "font": "DejaVu Sans", "color": "#1a1a1a"},
    "encoding": {"x": {"field": "v", "type": "quantitative"},
                 "y": {"field": "g", "type": "quantitative", "axis": {"orient": "left", "values": [50, 150, 250, 350, 450], "labels": false, "tickSize": 3, "domain": false, "grid": false, "title": null}},
                 "text": {"field": "t"}}
  }
],
"resolve": {"axis": {"y": "independent"}}
}
